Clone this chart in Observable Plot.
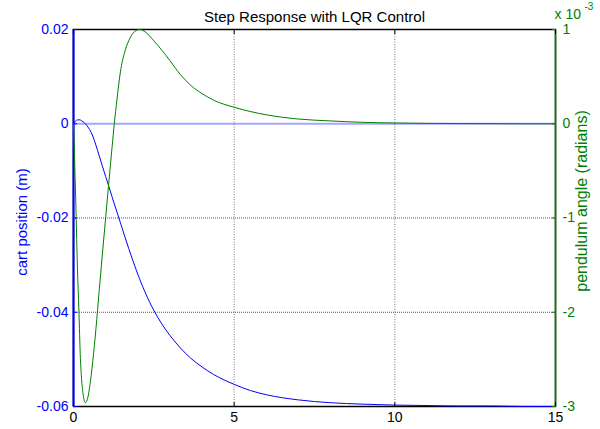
<!DOCTYPE html>
<html>
<head>
<meta charset="utf-8">
<script src="https://cdn.jsdelivr.net/npm/d3@7"></script>
<script src="https://cdn.jsdelivr.net/npm/@observablehq/plot@0.6"></script>
<style>
  html, body { margin: 0; padding: 0; background: #fff; }
  svg { font-family: "Liberation Sans", Arial, sans-serif; }
</style>
</head>
<body>
<div id="chart"></div>
<script>
const titleText = "Step Response with LQR Control";
const leftLabel = "cart position (m)";
const rightLabel = "pendulum angle (radians)";

// time (s)
const time = [0, 0.04, 0.08, 0.12, 0.17, 0.21, 0.25, 0.3, 0.37, 0.45, 0.5, 0.6, 0.7, 0.8, 0.9, 1.0, 1.1, 1.2, 1.27, 1.35, 1.46, 1.6, 1.72, 1.85, 2.05, 2.25, 2.5, 2.75, 3.0, 3.33, 3.64, 4.0, 4.36, 5.0, 5.5, 6.0, 7.0, 8.0, 9.0, 10, 11, 12, 13, 14, 15];
// cart position (m)
const cartPosition = [0, 0.0004, 0.00068, 0.0008, 0.00084, 0.0008, 0.00065, 0.0004, 0, -0.0007, -0.0012, -0.0026, -0.0046, -0.0068, -0.009, -0.0112, -0.0133, -0.0155, -0.017, -0.0187, -0.021, -0.024, -0.0265, -0.0291, -0.0328, -0.0361, -0.0396, -0.0425, -0.0449, -0.0476, -0.0497, -0.0516, -0.0532, -0.0553, -0.0566, -0.0575, -0.0586, -0.0592, -0.0595, -0.0597, -0.0598, -0.0599, -0.0599, -0.06, -0.06];
// pendulum angle (x 10^-3 rad)
const pendulumAngle = [0, -0.45, -0.95, -1.5, -2.0, -2.45, -2.7, -2.87, -2.96, -2.9, -2.8, -2.52, -2.17, -1.77, -1.38, -1.0, -0.62, -0.25, 0, 0.25, 0.55, 0.77, 0.88, 0.96, 1.0, 0.97, 0.88, 0.78, 0.67, 0.52, 0.41, 0.32, 0.25, 0.175, 0.13, 0.095, 0.05, 0.03, 0.015, 0.008, 0.004, 0.002, 0.001, 0, 0];

const xTicks = [0, 5, 10, 15];
const leftTicks = [-0.06, -0.04, -0.02, 0, 0.02];
const rightTicks = [-3, -2, -1, 0, 1];
const leftDomain = [-0.06, 0.02];
const rightDomain = [-3, 1];

// map right-axis units onto the left scale
const toLeft = v => leftDomain[0] + (v - rightDomain[0]) * (leftDomain[1] - leftDomain[0]) / (rightDomain[1] - rightDomain[0]);

const cart = time.map((t, i) => ({t, v: cartPosition[i]}));
const pend = time.map((t, i) => ({t, v: pendulumAngle[i]}));

const BLUE = "#0000ff";
const GREEN = "#008000";

const chart = Plot.plot({
  width: 600,
  height: 429,
  marginLeft: 73,
  marginRight: 45,
  marginTop: 29,
  marginBottom: 23,
  style: {fontFamily: "Liberation Sans, Arial, sans-serif", fontSize: "14px", background: "#fff", overflow: "visible"},
  x: {domain: [0, 15]},
  y: {domain: leftDomain},
  marks: [
    Plot.ruleY([0], {stroke: "#a6a6ff", strokeWidth: 2}),
    Plot.ruleY([-0.04, -0.02], {stroke: BLUE, strokeWidth: 1, strokeDasharray: "1,1", strokeOpacity: 0.75}),
    Plot.ruleX([5, 10], {stroke: "#555", strokeWidth: 1, strokeDasharray: "1,1.5", strokeOpacity: 0.8}),
    Plot.frame({stroke: "#000", strokeWidth: 1.5}),
    Plot.ruleX([0], {stroke: BLUE, strokeWidth: 2}),
    Plot.ruleX([15], {stroke: GREEN, strokeWidth: 1.5}),
    Plot.line(cart, {x: "t", y: "v", stroke: BLUE, strokeWidth: 1, curve: "monotone-x"}),
    Plot.line(pend, {x: "t", y: d => toLeft(d.v), stroke: GREEN, strokeWidth: 1, curve: "monotone-x"}),
    Plot.axisX(xTicks, {anchor: "bottom", tickSize: -4, tickPadding: 10, tickFormat: d => String(d), color: "#000", fontSize: 14, label: null}),
    Plot.axisX(xTicks, {anchor: "top", tickSize: -4, tickFormat: () => "", label: null}),
    Plot.axisY(leftTicks, {anchor: "left", tickSize: -4, tickPadding: 9, tickFormat: d => d === 0 ? "0" : String(d), color: BLUE, fontSize: 14, label: null}),
    Plot.axisY(rightTicks.map(toLeft), {anchor: "right", tickSize: -4, tickPadding: 11, tickFormat: (d, i) => String(rightTicks[i]), color: GREEN, fontSize: 14, label: null}),
    Plot.text([titleText], {frameAnchor: "top", dy: -18, fontSize: 15, fill: "#000"}),
    Plot.text([leftLabel], {frameAnchor: "left", dx: -51, dy: 4, rotate: -90, textAnchor: "middle", fontSize: 15, fill: BLUE}),
    Plot.text([rightLabel], {frameAnchor: "right", dx: 26, dy: -17, rotate: -90, textAnchor: "middle", fontSize: 16, fill: GREEN}),
    Plot.text(["x 10"], {frameAnchor: "top-right", dx: -1, dy: -20, textAnchor: "start", fontSize: 14, fill: GREEN}),
    Plot.text(["-3"], {frameAnchor: "top-right", dx: 29, dy: -27, textAnchor: "start", fontSize: 10, fill: GREEN})
  ]
});
document.getElementById("chart").appendChild(chart);
</script>
</body>
</html>
